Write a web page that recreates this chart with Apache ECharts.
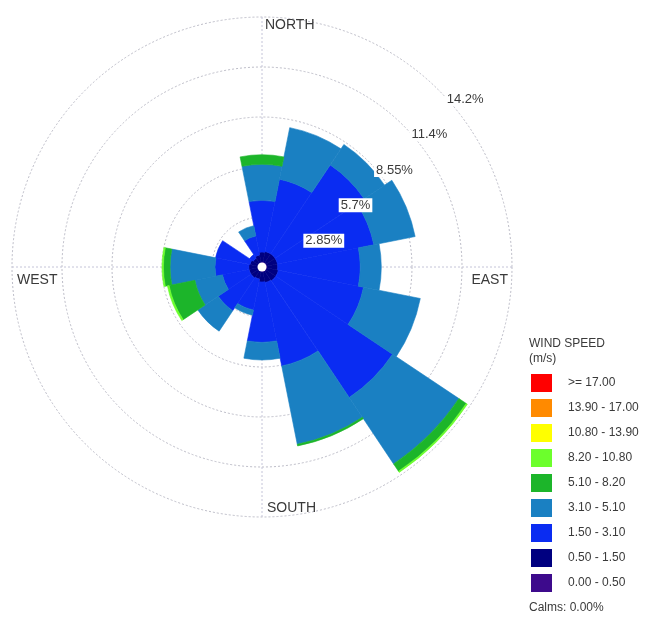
<!DOCTYPE html>
<html>
<head>
<meta charset="utf-8">
<title>Wind Rose</title>
<script src="https://cdn.jsdelivr.net/npm/echarts@6/dist/echarts.min.js"></script>
<style>
  html, body { margin: 0; padding: 0; background: #ffffff; }
  #chart { width: 650px; height: 623px; }
</style>
</head>
<body>
<div id="chart"></div>
<script>
// Sixteen compass sectors, clockwise from north
var directions = ['N', 'NNE', 'NE', 'ENE', 'E', 'ESE', 'SE', 'SSE',
                  'S', 'SSW', 'SW', 'WSW', 'W', 'WNW', 'NW', 'NNW'];

// Wind speed classes (m/s), innermost first
var speedClasses = ['0.00 - 0.50', '0.50 - 1.50', '1.50 - 3.10', '3.10 - 5.10',
                    '5.10 - 8.20', '8.20 - 10.80', '10.80 - 13.90', '13.90 - 17.00', '>= 17.00'];
var classColors = ['#3d0a8c', '#000080', '#0a2cf2', '#1a80c2',
                   '#1cb52a', '#6cff2c', '#ffff00', '#ff8a00', '#ff0000'];

// Frequency (%) of each speed class per direction
var speed0_05   = [0.30, 0.30, 0.30, 0.30, 0.30, 0.30, 0.30, 0.30, 0.30, 0.25, 0.25, 0.25, 0.25, 0.25, 0.20, 0.25];
var speed05_15  = [0.55, 0.60, 0.60, 0.60, 0.60, 0.65, 0.65, 0.60, 0.55, 0.45, 0.50, 0.50, 0.50, 0.45, 0.40, 0.45];
var speed15_31  = [2.95, 4.20, 6.10, 5.60, 4.70, 4.95, 8.00, 4.85, 3.45, 1.80, 2.25, 1.55, 1.93, 2.00, 0.25, 1.10];
var speed31_51  = [2.05, 3.00, 1.40, 2.40, 1.20, 3.30, 4.55, 4.55, 1.00, 0.30, 1.40, 1.60, 2.56, 0.00, 0.00, 0.60];
var speed51_82  = [0.55, 0.00, 0.00, 0.00, 0.00, 0.00, 0.50, 0.10, 0.00, 0.00, 0.00, 1.50, 0.38, 0.00, 0.00, 0.00];
var speed82_108 = [0.00, 0.00, 0.00, 0.00, 0.00, 0.00, 0.08, 0.00, 0.00, 0.00, 0.00, 0.10, 0.08, 0.00, 0.00, 0.00];
var speed108_139 = [0, 0, 0, 0, 0, 0, 0, 0, 0, 0, 0, 0, 0, 0, 0, 0];
var speed139_17  = [0, 0, 0, 0, 0, 0, 0, 0, 0, 0, 0, 0, 0, 0, 0, 0];
var speed17up    = [0, 0, 0, 0, 0, 0, 0, 0, 0, 0, 0, 0, 0, 0, 0, 0];
var classValues = [speed0_05, speed05_15, speed15_31, speed31_51, speed51_82,
                   speed82_108, speed108_139, speed139_17, speed17up];

// Frequency rings and their captions
var ringValues = [2.85, 5.7, 8.55, 11.4, 14.25];
var ringLabels = ['2.85%', '5.7%', '8.55%', '11.4%', '14.2%'];
var ringLabelDir = 'NE';

// Compass captions
var compassDirs  = ['N', 'E', 'S', 'W'];
var compassNames = ['NORTH', 'EAST', 'SOUTH', 'WEST'];

var calmsPct = 0.00;

var CENTER = [262, 267];
var OUTER_R = 250;
var FONT = '"Liberation Sans", Arial, sans-serif';
var TEXT_COLOR = '#3a3a3a';

var series = [];
for (var i = 0; i < speedClasses.length; i++) {
  series.push({
    name: speedClasses[i],
    type: 'bar',
    coordinateSystem: 'polar',
    polarIndex: 0,
    stack: 'wind',
    barCategoryGap: '0%',
    // empty classes are left out so they draw nothing
    itemStyle: { color: classColors[i], borderColor: classColors[i], borderWidth: 0.6 },
    data: classValues[i].map(function (v) { return v > 0 ? v : '-'; }),
    silent: true
  });
}

// Ring captions along the NE diagonal
series.push({
  type: 'scatter',
  coordinateSystem: 'polar',
  polarIndex: 0,
  symbolSize: 0,
  silent: true,
  z: 10,
  itemStyle: { opacity: 1 },
  data: ringValues.map(function (v, k) {
    return { value: [v, ringLabelDir], name: ringLabels[k] };
  }),
  label: {
    show: true,
    position: 'right',
    distance: 0,
    offset: [6, 9],
    formatter: '{b}',
    color: TEXT_COLOR,
    fontFamily: FONT,
    fontSize: 13,
    backgroundColor: '#ffffff',
    padding: [1, 2, 0, 2]
  }
});

// Compass captions just inside the outer ring
var compassLabelStyle = {
  N: { position: 'right', offset: [3, 8] },
  E: { position: 'left', offset: [-4, 13] },
  S: { position: 'right', offset: [5, -9] },
  W: { position: 'right', offset: [5, 13] }
};
series.push({
  type: 'scatter',
  coordinateSystem: 'polar',
  polarIndex: 0,
  symbolSize: 0,
  silent: true,
  z: 10,
  itemStyle: { opacity: 1 },
  data: compassDirs.map(function (d, k) {
    return {
      value: [ringValues[ringValues.length - 1], d],
      name: compassNames[k],
      label: compassLabelStyle[d]
    };
  }),
  label: {
    show: true,
    distance: 0,
    formatter: '{b}',
    color: TEXT_COLOR,
    fontFamily: FONT,
    fontSize: 14
  }
});

var option = {
  animation: false,
  backgroundColor: '#ffffff',
  title: [
    {
      text: 'WIND SPEED\n(m/s)',
      left: 524,
      top: 331,
      textStyle: { fontFamily: FONT, fontSize: 12, fontWeight: 'normal', color: TEXT_COLOR, lineHeight: 15 }
    },
    {
      text: 'Calms: ' + calmsPct.toFixed(2) + '%',
      left: 524,
      top: 597,
      textStyle: { fontFamily: FONT, fontSize: 12, fontWeight: 'normal', color: TEXT_COLOR }
    }
  ],
  legend: {
    orient: 'vertical',
    left: 526,
    top: 369,
    icon: 'rect',
    itemWidth: 21,
    itemHeight: 18,
    itemGap: 7,
    selectedMode: false,
    itemStyle: { borderWidth: 0 },
    data: speedClasses.slice().reverse(),
    textStyle: { fontFamily: FONT, fontSize: 12, color: TEXT_COLOR, padding: [0, 0, 0, 11] }
  },
  polar: [
    { center: CENTER, radius: [0, OUTER_R] },
    { center: CENTER, radius: [0, OUTER_R] }
  ],
  angleAxis: [
    {
      polarIndex: 0,
      type: 'category',
      data: directions,
      startAngle: 90 + 180 / directions.length,
      clockwise: true,
      boundaryGap: true,
      axisLine: { show: false },
      axisTick: { show: false },
      axisLabel: { show: false },
      splitLine: { show: false }
    },
    {
      polarIndex: 1,
      type: 'value',
      min: 0,
      max: 360,
      interval: 90,
      startAngle: 90,
      clockwise: true,
      axisLine: { show: false },
      axisTick: { show: false },
      axisLabel: { show: false },
      splitLine: { show: true, lineStyle: { color: '#c4c4d8', type: [2, 2], width: 1 } }
    }
  ],
  radiusAxis: [
    {
      polarIndex: 0,
      type: 'value',
      min: 0,
      max: ringValues[ringValues.length - 1],
      interval: ringValues[0],
      axisLine: { show: false },
      axisTick: { show: false },
      axisLabel: { show: false },
      splitLine: { show: true, lineStyle: { color: '#bdbdc8', type: [2, 2], width: 1 } }
    },
    {
      polarIndex: 1,
      type: 'value',
      min: 0,
      max: 1,
      axisLine: { show: false },
      axisTick: { show: false },
      axisLabel: { show: false },
      splitLine: { show: false }
    }
  ],
  graphic: [
    {
      type: 'circle',
      shape: { cx: CENTER[0], cy: CENTER[1], r: 4.5 },
      style: { fill: '#ffffff' },
      z: 100,
      silent: true
    }
  ],
  series: series
};

var chart = echarts.init(document.getElementById('chart'), null, { renderer: 'canvas' });
chart.setOption(option);
</script>
</body>
</html>
